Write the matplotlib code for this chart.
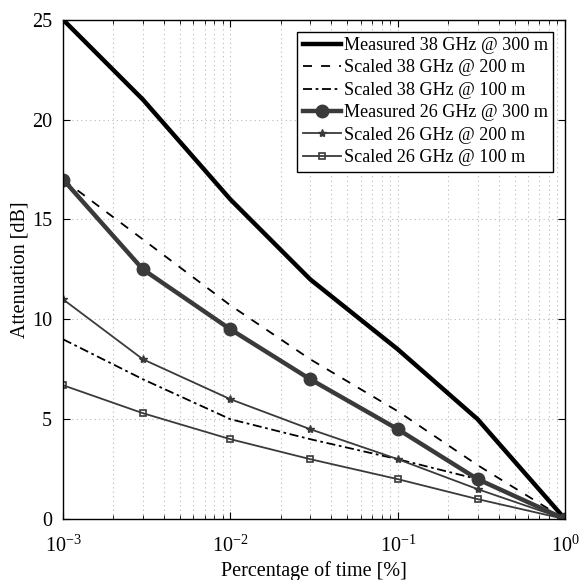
import matplotlib
matplotlib.use('Agg')
import matplotlib.pyplot as plt
from matplotlib.ticker import LogLocator, NullFormatter

plt.rcParams.update({
    'font.family': 'serif',
    'font.serif': ['Liberation Serif'],
    'mathtext.fontset': 'stix',
    'font.size': 13,
})

# percentage of time [%]
pct = [0.001, 0.003, 0.01, 0.03, 0.1, 0.3, 1.0]

meas_38_300 = [25, 21, 16, 12, 8.5, 5, 0]
scal_38_200 = [17, 14, 10.7, 8, 5.4, 2.7, 0]
scal_38_100 = [9, 7, 5, 4, 3, 2, 0]
meas_26_300 = [17, 12.5, 9.5, 7, 4.5, 2, 0]
scal_26_200 = [11, 8, 6, 4.5, 3, 1.5, 0]
scal_26_100 = [6.7, 5.3, 4, 3, 2, 1, 0]

dark = '#3a3a3a'

fig = plt.figure(figsize=(5.79, 5.80), dpi=100)
ax = fig.add_axes([0.109, 0.105, 0.867, 0.861])

ax.plot(pct, meas_38_300, color='black', lw=3.2, label='Measured 38 GHz @ 300 m')
ax.plot(pct, scal_38_200, color='black', lw=1.3, ls=(0, (5, 5)), label='Scaled 38 GHz @ 200 m')
ax.plot(pct, scal_38_100, color='black', lw=1.3, ls=(0, (5, 2, 1.5, 2)), label='Scaled 38 GHz @ 100 m')
ax.plot(pct, meas_26_300, color=dark, lw=3.2, marker='o', ms=9,
        label='Measured 26 GHz @ 300 m')
ax.plot(pct, scal_26_200, color=dark, lw=1.3, marker='*', ms=6,
        label='Scaled 26 GHz @ 200 m')
ax.plot(pct, scal_26_100, color=dark, lw=1.3, marker='s', ms=5,
        mfc='none', mew=1.2, label='Scaled 26 GHz @ 100 m')

ax.set_xscale('log')
ax.set_xlim(1e-3, 1)
ax.set_ylim(0, 25)
ax.set_yticks([0, 5, 10, 15, 20, 25])
ax.xaxis.set_minor_locator(LogLocator(base=10, subs=range(2, 10)))
ax.xaxis.set_minor_formatter(NullFormatter())

ax.grid(True, which='major', ls=(0, (1, 3)), color='#b8b8b8', lw=0.8)
ax.grid(True, which='minor', axis='x', ls=(0, (1, 3)), color='#b8b8b8', lw=0.8)
ax.tick_params(which='both', direction='in', top=True, right=True)
ax.tick_params(which='major', length=5, labelsize=14.5)
ax.tick_params(axis='x', which='major', pad=12)
ax.tick_params(axis='y', which='major', pad=8)
ax.tick_params(which='minor', length=3)
for s in ax.spines.values():
    s.set_linewidth(1.0)

ax.set_xlabel('Percentage of time [%]', fontsize=14.5, labelpad=3)
ax.set_ylabel('Attenuation [dB]', fontsize=14.5, labelpad=2)

leg = ax.legend(loc='upper right', fontsize=13.1, fancybox=False, framealpha=1,
                edgecolor='black', borderpad=0.3, labelspacing=0.3,
                handlelength=2.1, handletextpad=0.15, borderaxespad=0.65)
leg.get_frame().set_linewidth(1.0)

fig.savefig('out.png', dpi=100)
